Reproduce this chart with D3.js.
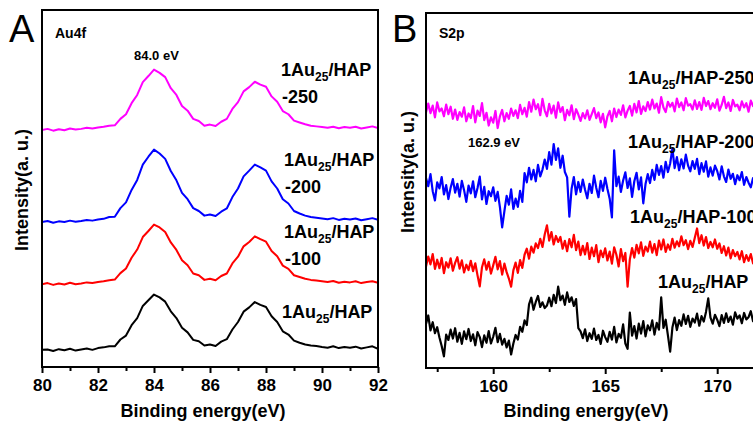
<!DOCTYPE html>
<html>
<head>
<meta charset="utf-8">
<script src="https://cdn.jsdelivr.net/npm/d3@7"></script>
<style>
  body { margin: 0; background: #fff; }
  svg { display: block; font-family: "Liberation Sans", Arial, sans-serif; }
</style>
</head>
<body>
<svg id="chart" width="753" height="428"></svg>
<script>
// ---- Panel A: Au4f (binding energy grid 80..92 eV, 0.2 eV step) ----
const energyA = d3.range(0, 61).map(i => +(80 + i * 0.2).toFixed(1));

const au250 = [66.4, 66.7, 66.2, 66.6, 66.3, 66.8, 66.5, 66.7, 67.0, 66.8,
  67.1, 67.3, 67.6, 67.7, 69.5, 70.8, 73.9, 76.2, 79.8, 81.5,
  83.3, 82.4, 81.2, 78.1, 76.2, 73.1, 71.8, 69.5, 68.9, 67.6,
  67.9, 67.5, 68.7, 69.5, 72.3, 74.2, 77.2, 78.4, 79.9, 79.1,
  78.5, 75.8, 74.3, 71.7, 70.8, 69.0, 68.5, 68.0, 67.6, 67.4,
  67.2, 67.0, 67.3, 66.9, 67.2, 67.0, 67.3, 66.8, 67.1, 67.4, 66.9];

const au200 = [40.6, 40.9, 40.4, 40.8, 40.6, 41.0, 40.7, 40.9, 41.2, 41.0,
  41.3, 41.5, 42.0, 42.1, 44.5, 46.1, 49.6, 52.4, 56.7, 58.9,
  60.9, 59.8, 58.3, 54.9, 52.3, 48.8, 47.0, 44.5, 43.7, 42.4,
  42.7, 42.3, 43.5, 44.4, 47.6, 50.0, 53.4, 55.0, 56.7, 55.9,
  55.0, 52.0, 50.0, 47.0, 45.8, 43.7, 43.0, 42.4, 42.0, 41.8,
  41.6, 41.4, 41.7, 41.2, 41.5, 41.3, 41.6, 41.1, 41.4, 41.7, 41.2];

const au100 = [23.2, 23.5, 23.0, 23.4, 23.1, 23.6, 23.2, 23.4, 23.7, 23.5,
  23.8, 24.0, 24.3, 24.5, 26.3, 27.6, 30.6, 32.9, 36.4, 38.1,
  39.9, 39.1, 37.8, 34.9, 32.8, 29.9, 28.5, 26.2, 25.7, 24.4,
  24.7, 24.3, 25.5, 26.2, 29.0, 30.9, 33.8, 35.0, 36.6, 35.8,
  35.1, 32.5, 31.0, 28.4, 27.5, 25.7, 25.2, 24.7, 24.4, 24.2,
  24.0, 23.8, 24.1, 23.6, 23.9, 23.7, 24.0, 23.5, 23.8, 24.0, 23.6];

const au0 = [4.8, 4.9, 4.5, 5.0, 4.7, 5.1, 4.6, 4.9, 5.2, 4.8,
  5.3, 5.5, 5.8, 5.8, 7.7, 8.8, 11.7, 13.7, 17.1, 18.7,
  20.3, 19.5, 18.3, 15.6, 13.7, 11.0, 9.7, 7.6, 7.2, 6.0,
  6.3, 5.9, 7.1, 7.8, 10.5, 12.6, 15.5, 16.7, 18.2, 17.4,
  16.8, 14.2, 12.6, 10.0, 9.1, 7.4, 6.8, 6.3, 6.0, 5.9,
  5.6, 5.4, 5.8, 5.3, 5.6, 5.4, 5.7, 5.2, 5.5, 5.8, 5.1];

// ---- Panel B: S2p (binding energy grid 157..171.9 eV, 0.1 eV step) ----
const energyB = d3.range(0, 150).map(i => +(157 + i * 0.1).toFixed(1));

const s250 = [
  72.0, 74.5, 71.8, 73.9, 70.6, 74.8, 72.3, 73.1, 70.9, 74.2,
  71.5, 73.6, 70.2, 72.8, 69.9, 72.1, 70.8, 73.4, 69.5, 71.7,
  70.4, 73.8, 69.2, 72.5, 71.0, 74.6, 69.8, 71.9, 68.3, 70.6,
  69.1, 72.4, 67.6, 70.9, 72.7, 69.5, 71.8, 70.2, 73.1, 71.0,
  72.6, 70.4, 74.1, 71.5, 73.3, 70.8, 74.9, 72.2, 75.6, 72.9,
  74.3, 71.2, 75.8, 72.6, 70.9, 74.4, 71.7, 73.9, 70.5, 74.8,
  72.1, 73.5, 69.8, 72.7, 71.2, 74.0, 70.1, 72.9, 71.4, 69.6,
  71.8, 70.3, 72.6, 69.9, 71.5, 73.2, 70.4, 72.0, 69.2, 71.6,
  67.8, 70.9, 72.4, 69.5, 73.1, 70.7, 72.8, 71.3, 74.0, 70.6,
  72.5, 73.8, 71.1, 74.4, 72.0, 75.2, 71.6, 73.7, 72.4, 74.9,
  72.8, 75.6, 73.1, 74.5, 71.9, 76.3, 73.4, 72.1, 75.0, 73.6,
  74.7, 72.3, 75.9, 73.5, 74.8, 72.6, 76.0, 73.9, 74.3, 72.8,
  75.4, 73.0, 74.9, 72.7, 76.1, 73.8, 75.2, 72.9, 74.6, 73.3,
  75.7, 72.5, 74.1, 76.4, 73.2, 74.8, 72.4, 75.5, 73.7, 74.2,
  72.6, 75.1, 73.4, 74.6, 72.2, 75.3, 73.8, 74.0, 72.9, 74.5];

const s200 = [
  53.5, 51.2, 54.6, 49.8, 47.2, 52.3, 50.6, 53.8, 48.9, 51.5,
  47.6, 50.8, 53.2, 49.4, 51.9, 48.3, 52.7, 50.1, 46.8, 51.4,
  49.2, 52.6, 48.1, 50.7, 53.9, 47.5, 51.0, 46.2, 49.8, 48.4,
  50.9, 47.1, 49.6, 45.3, 39.6, 44.2, 48.5, 46.0, 50.3, 44.8,
  47.7, 45.4, 49.9, 46.8, 54.9, 52.3, 56.4, 53.1, 55.8, 52.6,
  57.2, 54.0, 55.9, 58.7, 56.1, 60.8, 57.3, 63.1, 58.6, 61.9,
  56.4, 59.8, 55.2, 53.7, 42.6, 50.5, 53.8, 48.9, 52.4, 49.6,
  53.1, 50.2, 47.8, 51.9, 49.3, 54.2, 50.8, 48.1, 52.7, 49.9,
  53.6, 50.4, 47.7, 42.4, 61.3, 51.2, 53.9, 49.6, 52.8, 55.1,
  50.7, 53.4, 48.2, 52.6, 55.0, 50.3, 53.7, 46.4, 51.8, 54.6,
  52.1, 55.8, 53.0, 57.2, 54.4, 56.9, 53.6, 58.1, 55.2, 57.6,
  61.8, 56.3, 59.4, 55.7, 58.8, 56.2, 60.1, 57.0, 55.4, 58.3,
  56.1, 58.9, 54.6, 57.7, 55.3, 58.2, 53.9, 56.5, 54.2, 57.0,
  55.5, 53.1, 56.8, 54.0, 52.4, 55.9, 53.3, 54.7, 51.8, 54.3,
  52.9, 55.2, 51.6, 53.8, 52.2, 50.9, 53.5, 52.0, 54.1, 52.5];

const s100 = [
  28.6, 31.4, 29.2, 32.1, 27.9, 30.5, 28.1, 31.0, 26.7, 29.8,
  28.3, 30.9, 27.4, 29.6, 31.2, 28.0, 30.3, 26.9, 29.1, 27.6,
  30.2, 27.3, 29.5, 26.1, 23.0, 28.4, 30.6, 27.7, 29.9, 26.6,
  28.9, 31.3, 27.8, 30.1, 26.3, 29.4, 27.0, 25.2, 22.9, 27.5,
  29.7, 26.8, 30.4, 28.2, 31.9, 33.6, 30.8, 34.2, 32.5, 35.1,
  33.8, 36.4, 34.1, 37.6, 40.2, 35.9, 38.3, 34.8, 37.2, 35.5,
  36.9, 33.6, 35.8, 32.9, 36.3, 34.0, 37.5, 33.2, 35.6, 31.8,
  34.4, 32.0, 35.2, 30.7, 33.9, 31.5, 34.6, 29.8, 33.1, 31.2,
  33.7, 30.3, 32.8, 29.4, 34.0, 31.9, 28.6, 33.5, 30.1, 32.4,
  22.9, 30.6, 33.8, 31.1, 34.7, 32.3, 35.4, 31.6, 34.2, 32.8,
  35.6, 32.5, 34.9, 31.8, 35.9, 33.4, 36.2, 32.7, 34.8, 33.3,
  36.4, 33.9, 35.7, 34.3, 37.1, 34.6, 36.0, 33.5, 35.8, 34.1,
  36.7, 39.3, 35.2, 37.4, 34.5, 36.9, 33.8, 35.5, 34.0, 36.2,
  33.6, 35.1, 32.4, 34.3, 31.7, 33.9, 30.9, 33.2, 31.5, 32.7,
  30.6, 32.9, 29.8, 31.8, 30.2, 32.1, 29.5, 31.0, 30.4, 30.8];

const s0 = [
  12.4, 14.8, 10.6, 12.9, 9.8, 11.5, 8.6, 6.2, 3.3, 9.4,
  7.9, 10.8, 8.3, 11.2, 7.4, 9.9, 6.8, 10.3, 8.1, 11.0,
  7.6, 9.5, 6.4, 10.1, 8.7, 5.9, 9.2, 7.1, 10.4, 6.9,
  8.8, 11.3, 7.3, 9.6, 6.6, 8.2, 5.8, 7.7, 3.8, 6.9,
  9.3, 8.0, 11.6, 10.2, 13.4, 12.1, 17.9, 19.8, 16.4, 18.6,
  20.3, 17.2, 18.5, 16.9, 17.6, 19.8, 17.4, 20.6, 18.3, 22.9,
  19.1, 20.4, 17.8, 21.3, 18.6, 19.9, 17.5, 19.4, 11.2, 10.3,
  8.4, 10.9, 7.6, 9.8, 8.2, 11.1, 7.9, 9.3, 6.8, 10.5,
  8.7, 7.4, 10.2, 8.0, 11.6, 7.2, 9.6, 8.5, 12.3, 6.9,
  5.4, 15.6, 9.1, 11.8, 8.3, 12.5, 9.7, 13.2, 8.9, 12.0,
  10.6, 13.4, 9.4, 12.7, 10.8, 19.9, 11.3, 13.6, 9.2, 4.6,
  11.4, 14.2, 10.7, 13.5, 11.9, 15.1, 12.4, 14.7, 11.6, 13.9,
  12.8, 15.3, 11.9, 14.6, 13.1, 15.8, 19.6, 14.2, 12.5, 15.0,
  13.6, 11.8, 14.9, 12.7, 15.4, 13.0, 14.5, 12.2, 15.7, 13.9,
  14.8, 12.6, 15.5, 13.7, 14.3, 16.0, 13.2, 14.9, 14.1, 15.2];

const seriesColors = ['#ff00ff', '#0000ff', '#ff0000', '#000000'];

const ticksA = [80, 82, 84, 86, 88, 90, 92];
const minorTicksA = [81, 83, 85, 87, 89, 91];
const ticksB = [160, 165, 170];
const minorTicksB = [157.5, 162.5, 167.5, 172.5];

const svg = d3.select('#chart');

function drawPanel(cfg) {
    const x = d3.scaleLinear().domain(cfg.xDomain).range(cfg.xRange);
    const y = d3.scaleLinear().domain([0, 100]).range(cfg.yRange);
    const g = svg.append('g');

    const clipId = 'clip-' + cfg.letter;
    g.append('clipPath').attr('id', clipId)
        .append('rect')
        .attr('x', cfg.xRange[0]).attr('y', cfg.yRange[1])
        .attr('width', cfg.xRange[1] - cfg.xRange[0])
        .attr('height', cfg.yRange[0] - cfg.yRange[1]);

    const line = d3.line()
        .x((d, i) => x(cfg.energy[i]))
        .y(d => y(d));

    cfg.series.forEach((s, i) => {
        g.append('path')
            .datum(s)
            .attr('clip-path', `url(#${clipId})`)
            .attr('fill', 'none')
            .attr('stroke', seriesColors[i])
            .attr('stroke-width', cfg.lineWidth)
            .attr('stroke-linejoin', 'round')
            .attr('d', line);
    });

    // frame
    g.append('rect')
        .attr('x', cfg.xRange[0]).attr('y', cfg.yRange[1])
        .attr('width', cfg.xRange[1] - cfg.xRange[0])
        .attr('height', cfg.yRange[0] - cfg.yRange[1])
        .attr('fill', 'none')
        .attr('stroke', '#000')
        .attr('stroke-width', 2);

    // major ticks with labels
    const major = g.append('g')
        .attr('transform', `translate(0,${cfg.yRange[0]})`)
        .call(d3.axisBottom(x).tickValues(cfg.ticks).tickSize(6).tickSizeOuter(0).tickPadding(6));
    major.select('.domain').remove();
    major.selectAll('line').attr('stroke-width', 2);
    major.selectAll('text')
        .attr('font-family', '"Liberation Sans", Arial, sans-serif')
        .attr('font-size', 17).attr('font-weight', 'bold').attr('fill', '#000');

    // minor ticks
    const minor = g.append('g')
        .attr('transform', `translate(0,${cfg.yRange[0]})`)
        .call(d3.axisBottom(x).tickValues(cfg.minorTicks).tickSize(4).tickSizeOuter(0).tickFormat(''));
    minor.select('.domain').remove();
    minor.selectAll('line').attr('stroke-width', 2);

    // axis titles
    g.append('text')
        .attr('x', cfg.xTitleX).attr('y', 417)
        .attr('text-anchor', 'middle')
        .attr('font-size', 18).attr('font-weight', 'bold')
        .text('Binding energy(eV)');

    g.append('text')
        .attr('transform', `translate(${cfg.yTitleX},${cfg.yTitleY}) rotate(-90)`)
        .attr('text-anchor', 'middle')
        .attr('font-size', 18).attr('font-weight', 'bold')
        .text('Intensity(a. u.)');

    // panel letter and element name
    g.append('text')
        .attr('x', cfg.letterX).attr('y', 42)
        .attr('font-size', 38)
        .text(cfg.letter);

    g.append('text')
        .attr('x', cfg.xRange[0] + 13).attr('y', 38)
        .attr('font-size', 14).attr('font-weight', 'bold')
        .text(cfg.element);

    // peak position note
    g.append('text')
        .attr('x', cfg.peakNote.x).attr('y', cfg.peakNote.y)
        .attr('font-size', 13).attr('font-weight', 'bold')
        .text(cfg.peakNote.text);

    // sample labels
    cfg.labels.forEach(lb => {
        const t = g.append('text')
            .attr('x', lb.x).attr('y', lb.y)
            .attr('font-size', 18).attr('font-weight', 'bold');
        t.append('tspan').text('1Au');
        t.append('tspan').attr('font-size', 12).attr('dy', 5).text('25');
        t.append('tspan').attr('dy', -5).text('/HAP' + (lb.inline || ''));
        if (lb.second) {
            g.append('text')
                .attr('x', lb.x + 1).attr('y', lb.y + 27)
                .attr('font-size', 18).attr('font-weight', 'bold')
                .text(lb.second);
        }
    });
}

drawPanel({
    letter: 'A',
    letterX: 9,
    element: 'Au4f',
    energy: energyA,
    series: [au250, au200, au100, au0],
    xDomain: [80, 92],
    xRange: [42, 378],
    yRange: [367, 10],
    ticks: ticksA,
    minorTicks: minorTicksA,
    lineWidth: 2,
    xTitleX: 203,
    yTitleX: 28,
    yTitleY: 190,
    peakNote: { x: 134, y: 60, text: '84.0 eV' },
    labels: [
        { x: 281, y: 76, second: '-250' },
        { x: 284, y: 166, second: '-200' },
        { x: 284, y: 238, second: '-100' },
        { x: 282, y: 318 }
    ]
});

drawPanel({
    letter: 'B',
    letterX: 392,
    element: 'S2p',
    energy: energyB,
    series: [s250, s200, s100, s0],
    xDomain: [157, 172],
    xRange: [426, 762],
    yRange: [368, 13],
    ticks: ticksB,
    minorTicks: minorTicksB,
    lineWidth: 2.2,
    xTitleX: 586,
    yTitleX: 414,
    yTitleY: 172,
    peakNote: { x: 468, y: 147, text: '162.9 eV' },
    labels: [
        { x: 628, y: 84, inline: '-250' },
        { x: 628, y: 148, inline: '-200' },
        { x: 630, y: 223, inline: '-100' },
        { x: 658, y: 288 }
    ]
});
</script>
</body>
</html>
